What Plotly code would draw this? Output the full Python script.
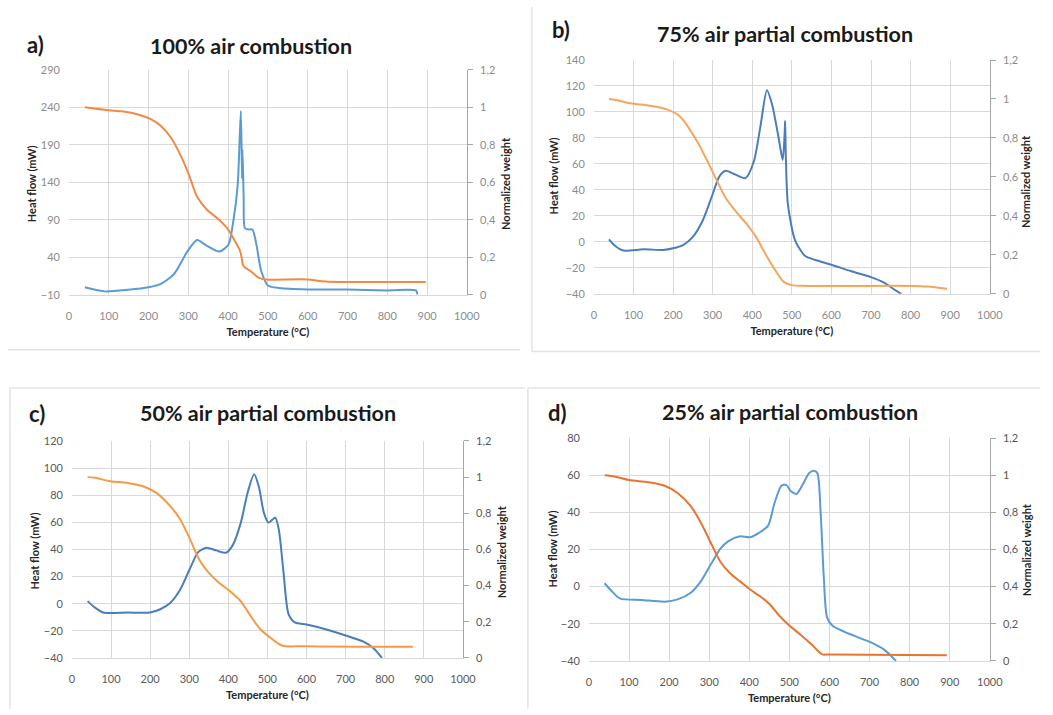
import plotly.graph_objects as go

# ---------------- data ----------------
# Panel a) 100% air combustion
a_hf_T = [40, 91, 149, 200, 231, 264, 298, 322, 347, 378, 401, 413, 424, 432, 435, 436, 439, 442, 450, 461, 471, 483, 500, 529, 599, 698, 800, 872, 876]
a_hf = [0, -5.6, -3.4, 0, 4.5, 17.6, 48, 63, 55, 47.5, 57, 88, 136, 235, 145, 184, 120, 79, 77, 77, 57, 22, 2.3, -1.2, -3, -3, -4.3, -4.3, -10]
a_w_T = [40, 99, 149, 182, 207, 231, 256, 281, 302, 322, 347, 372, 397, 417, 430, 434, 438, 455, 479, 496, 599, 645, 800, 897]
a_w = [1.0, 0.984, 0.974, 0.956, 0.935, 0.9, 0.839, 0.742, 0.637, 0.523, 0.453, 0.409, 0.356, 0.286, 0.233, 0.198, 0.154, 0.128, 0.088, 0.081, 0.081, 0.07, 0.067, 0.067]

# Panel b) 75% air partial combustion
b_hf_T = [38, 54, 75, 125, 175, 200, 225, 250, 275, 300, 317, 333, 358, 383, 404, 421, 437, 450, 467, 477, 482, 483, 485, 490, 508, 533, 558, 600, 650, 700, 733, 758, 777]
b_hf = [1.8, -3.3, -6.8, -5.8, -6.3, -5, -2.5, 3.8, 16.4, 36.6, 50.4, 54.7, 51.7, 49, 61.8, 89.5, 116.8, 106, 79.4, 63, 84.5, 93, 64, 29, 1.3, -10.8, -13.9, -17.7, -22.7, -27.2, -31.5, -36.6, -40.4]
b_w_T = [38, 62, 92, 142, 183, 217, 242, 267, 292, 312, 333, 358, 383, 408, 433, 458, 479, 500, 542, 800, 842, 892]
b_w = [1.0, 0.992, 0.978, 0.965, 0.948, 0.911, 0.844, 0.76, 0.659, 0.575, 0.491, 0.424, 0.365, 0.297, 0.205, 0.121, 0.062, 0.044, 0.04, 0.04, 0.037, 0.025]

# Panel c) 50% air partial combustion
c_hf_T = [40, 59, 80, 143, 200, 226, 252, 277, 302, 323, 344, 369, 394, 411, 432, 449, 466, 478, 491, 503, 512, 520, 529, 541, 554, 570, 600, 646, 700, 747, 772, 793]
c_hf = [1.9, -2.9, -6.5, -6.5, -6.5, -4.1, 0.7, 10.4, 26, 38, 41.3, 39.3, 37.6, 43, 59.8, 81.5, 95.5, 86.4, 67, 59.8, 61.8, 63.5, 55, 23.6, -7.7, -13.8, -15.4, -18.6, -23.4, -28.2, -33, -40]
c_w_T = [40, 59, 99, 143, 185, 218, 252, 277, 302, 327, 348, 373, 403, 432, 457, 482, 512, 537, 600, 872]
c_w = [1.0, 0.996, 0.977, 0.968, 0.947, 0.91, 0.838, 0.766, 0.657, 0.539, 0.476, 0.422, 0.371, 0.313, 0.232, 0.159, 0.105, 0.069, 0.065, 0.062]

# Panel d) 25% air partial combustion
d_hf_T = [39, 57, 78, 131, 189, 221, 254, 279, 303, 328, 348, 377, 402, 426, 447, 463, 480, 492, 504, 518, 533, 549, 561, 570, 578, 586, 594, 607, 639, 701, 738, 766]
d_hf = [1.8, -2.5, -6.5, -7.2, -8.1, -6.9, -3.3, 2.8, 11.6, 20.4, 24.5, 27.1, 26.6, 29.2, 32.8, 45, 54.3, 54.8, 51.3, 49.9, 54.8, 61, 62.4, 61, 39.8, 4.6, -16.6, -21, -24.5, -29.8, -34.2, -40]
d_w_T = [39, 66, 100, 148, 189, 221, 254, 279, 303, 328, 352, 377, 402, 426, 451, 475, 500, 525, 557, 582, 598, 893]
d_w = [0.999, 0.992, 0.974, 0.962, 0.943, 0.904, 0.833, 0.745, 0.64, 0.534, 0.472, 0.428, 0.384, 0.349, 0.305, 0.243, 0.19, 0.146, 0.085, 0.035, 0.035, 0.03]

panel_letters = ["a)", "b)", "c)", "d)"]
panel_titles = ["100% air combustion", "75% air partial combustion",
                "50% air partial combustion", "25% air partial combustion"]
left_ticks = [
    [-10, 40, 90, 140, 190, 240, 290],
    [-40, -20, 0, 20, 40, 60, 80, 100, 120, 140],
    [-40, -20, 0, 20, 40, 60, 80, 100, 120],
    [-40, -20, 0, 20, 40, 60, 80],
]
right_tickvals = [0, 0.2, 0.4, 0.6, 0.8, 1.0, 1.2]
right_ticktext = ["0", "0,2", "0,4", "0,6", "0,8", "1", "1,2"]
x_ticks = [0, 100, 200, 300, 400, 500, 600, 700, 800, 900, 1000]
x_title = "Temperature (°C)"
left_title = "Heat flow (mW)"
right_title = "Normalized weight"

hf_T = [a_hf_T, b_hf_T, c_hf_T, d_hf_T]
hf = [a_hf, b_hf, c_hf, d_hf]
w_T = [a_w_T, b_w_T, c_w_T, d_w_T]
w = [a_w, b_w, c_w, d_w]

# ---------------- layout geometry ----------------
W, H = 1053, 715
# plot-area boxes in pixels: (x0, x1, ytop, ybottom)
boxes = [(67, 471, 64, 293), (600, 1002, 54, 292), (70, 467, 442, 663), (595, 1002, 439, 666)]
left_title_pos = [(29, 180), (559, 172), (32, 554), (558, 552)]
right_title_pos = [(510, 180), (1039, 178), (507, 555), (1040, 553)]
blue = ["#5B9BD5", "#4A7EBB", "#4A7EBB", "#5B9BD5"]
orange = ["#F08A45", "#F5A55C", "#F59A45", "#E8742F"]
tickcol = ["#8C8C8C", "#8C8C8C", "#595959", "#595959"]

FONT = "Lato"
fig = go.Figure()
layout = dict(width=W, height=H, margin=dict(l=0, r=0, t=0, b=0),
              paper_bgcolor="white", plot_bgcolor="white", showlegend=False,
              font=dict(family=FONT, color="#595959"))
annotations = []
shapes = []
ttf = dict(family=FONT, size=11, color="#262626")

for i in range(4):
    xn = "" if i == 0 else str(i + 1)
    yl = "" if i == 0 else str(2 * i + 1)
    yr = str(2 * i + 2)
    x0, x1, yt, yb = boxes[i]
    xd = [x0 / W, x1 / W]
    yd = [1 - yb / H, 1 - yt / H]
    lt = left_ticks[i]
    fig.add_trace(go.Scatter(x=hf_T[i], y=hf[i], mode="lines",
                             line=dict(color=blue[i], width=2, shape="spline", smoothing=0.7),
                             xaxis="x" + xn, yaxis="y" + yl))
    fig.add_trace(go.Scatter(x=w_T[i], y=w[i], mode="lines",
                             line=dict(color=orange[i], width=2, shape="spline", smoothing=0.9),
                             xaxis="x" + xn, yaxis="y" + yr))
    tf = dict(family=FONT, size=11, color=tickcol[i])
    layout["xaxis" + xn] = dict(domain=xd, anchor="y" + yl, range=[0, 1000], tickvals=x_ticks,
                                showgrid=True, gridcolor="#D9D9D9", zeroline=False,
                                showline=True, linecolor="#D9D9D9", ticks="", tickfont=tf,
                                ticklabelstandoff=11,
                                title=dict(text="<b>" + x_title + "</b>", standoff=7, font=ttf))
    layout["yaxis" + yl] = dict(domain=yd, anchor="x" + xn, range=[lt[0], lt[-1]], tickvals=lt,
                                showgrid=True, gridcolor="#D9D9D9", zeroline=False,
                                showline=False, ticks="", tickfont=tf, ticklabelstandoff=8)
    layout["yaxis" + yr] = dict(domain=yd, anchor="x" + xn, overlaying="y" + yl, side="right",
                                range=[0, 1.2], tickvals=right_tickvals, ticktext=right_ticktext,
                                showgrid=False, zeroline=False, showline=True, linecolor="#A6A6A6",
                                ticks="outside", ticklen=5, tickcolor="#A6A6A6", tickfont=tf,
                                ticklabelstandoff=5)
    lx, ly = left_title_pos[i]
    annotations.append(dict(text="<b>" + left_title + "</b>", x=lx / W, y=1 - ly / H,
                            xref="paper", yref="paper", xanchor="center", yanchor="middle",
                            textangle=-90, showarrow=False, font=ttf))
    rx, ry = right_title_pos[i]
    annotations.append(dict(text="<b>" + right_title + "</b>", x=rx / W, y=1 - ry / H,
                            xref="paper", yref="paper", xanchor="center", yanchor="middle",
                            textangle=-90, showarrow=False, font=ttf))

# titles and panel letters (pixel positions)
letter_pos = [(22, 38), (555, 23), (24, 414), (551, 413)]
title_pos = [(252, 40), (794, 28), (269, 414), (799, 412)]
for i in range(4):
    lx, ly = letter_pos[i]
    annotations.append(dict(text="<b>" + panel_letters[i] + "</b>", x=lx / W, y=1 - ly / H,
                            xref="paper", yref="paper", xanchor="left", yanchor="middle",
                            showarrow=False, font=dict(family=FONT, size=22, color="#1A1A1A")))
    tx, ty = title_pos[i]
    annotations.append(dict(text="<b>" + panel_titles[i] + "</b>", x=tx / W, y=1 - ty / H,
                            xref="paper", yref="paper", xanchor="center", yanchor="middle",
                            showarrow=False, font=dict(family=FONT, size=21.5, color="#1A1A1A")))

# faint panel frames
line_style = dict(color="#E3E3E3", width=1.5)
shapes.append(dict(type="line", xref="paper", yref="paper", x0=5 / W, x1=525 / W,
                   y0=1 - 349 / H, y1=1 - 349 / H, line=line_style))
shapes.append(dict(type="line", xref="paper", yref="paper", x0=537 / W, x1=537 / W,
                   y0=1 - 0 / H, y1=1 - 351 / H, line=line_style))
shapes.append(dict(type="line", xref="paper", yref="paper", x0=537 / W, x1=1053 / W,
                   y0=1 - 351 / H, y1=1 - 351 / H, line=line_style))
shapes.append(dict(type="line", xref="paper", yref="paper", x0=7 / W, x1=530 / W,
                   y0=1 - 388 / H, y1=1 - 388 / H, line=line_style))
shapes.append(dict(type="line", xref="paper", yref="paper", x0=7 / W, x1=7 / W,
                   y0=1 - 388 / H, y1=0, line=line_style))
shapes.append(dict(type="line", xref="paper", yref="paper", x0=533 / W, x1=1053 / W,
                   y0=1 - 388 / H, y1=1 - 388 / H, line=line_style))
shapes.append(dict(type="line", xref="paper", yref="paper", x0=533 / W, x1=533 / W,
                   y0=1 - 388 / H, y1=0, line=line_style))

layout["annotations"] = annotations
layout["shapes"] = shapes
fig.update_layout(**layout)
fig.write_html("out.html",
               post_script="document.body.style.margin='0';document.body.style.overflow='hidden';")
